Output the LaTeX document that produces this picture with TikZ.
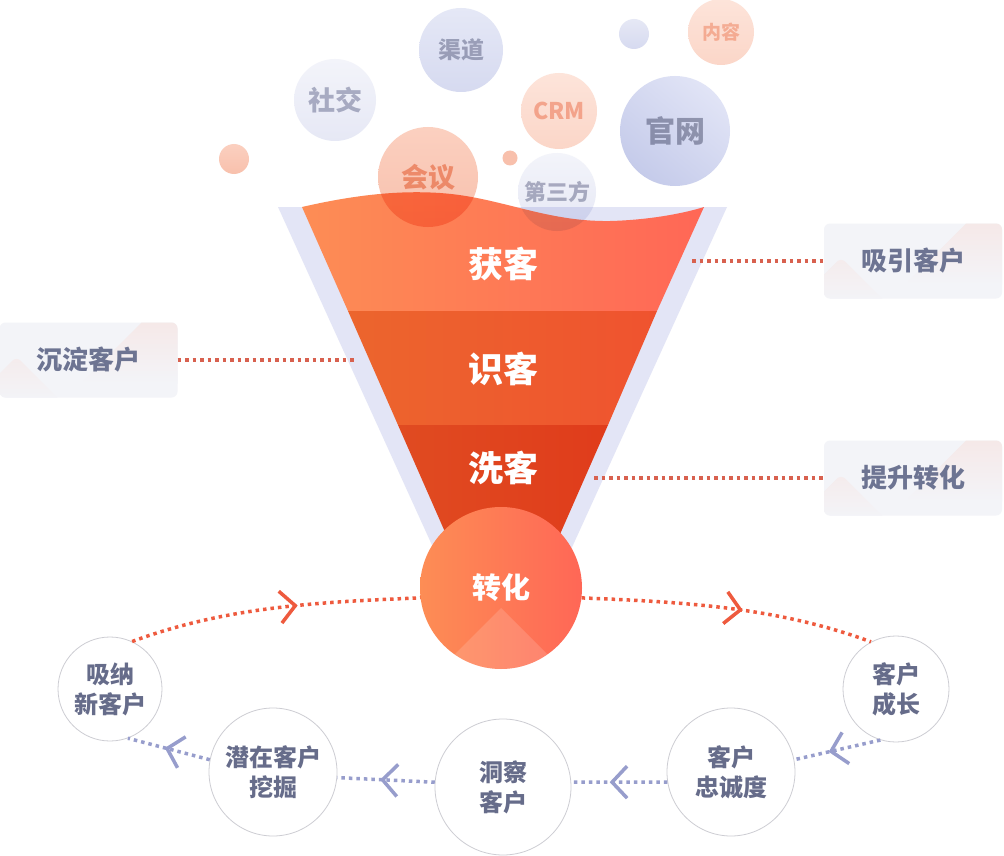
\documentclass[tikz,border=0pt]{standalone}
\usepackage{fontspec}
\setmainfont{Noto Sans CJK SC}
\usetikzlibrary{arrows.meta,decorations.markings}

\newcommand\fsz[1]{\fontsize{#1}{#1}\selectfont\bfseries}

\definecolor{wall}{HTML}{E3E5F6}
\definecolor{bandA1}{HTML}{FD8D55}
\definecolor{bandA2}{HTML}{FF6756}
\definecolor{bandB1}{HTML}{EC652D}
\definecolor{bandB2}{HTML}{EF532F}
\definecolor{bandC1}{HTML}{E04B21}
\definecolor{bandC2}{HTML}{E03C1B}
\definecolor{tagbg}{HTML}{F3F4F8}
\definecolor{tagpink}{HTML}{F6E5E3}
\definecolor{tagtxt}{HTML}{6D7492}
\definecolor{stagetxt}{HTML}{666C8A}
\definecolor{stageline}{HTML}{CDCDD3}
\definecolor{redline}{HTML}{EE5A3E}
\definecolor{tagdot}{HTML}{D8614F}
\definecolor{blueline}{HTML}{979DCC}
% bubble colours
\definecolor{grayA}{HTML}{F3F4FA}
\definecolor{grayB}{HTML}{E6E8F5}
\definecolor{blueA}{HTML}{E5E8F6}
\definecolor{blueB}{HTML}{D6DAF0}
\definecolor{siteA}{HTML}{E1E4F6}
\definecolor{siteB}{HTML}{C5CBEA}
\definecolor{peachA}{HTML}{FDE4DA}
\definecolor{peachB}{HTML}{FBD6C8}
\definecolor{meetA}{HTML}{FBD0C0}
\definecolor{meetB}{HTML}{F8C0AC}
\definecolor{txSocial}{HTML}{B5B7C8}
\definecolor{txChannel}{HTML}{B1B3C1}
\definecolor{txThird}{HTML}{B3B5C5}
\definecolor{txSite}{HTML}{A9ABB7}
\definecolor{txCrm}{HTML}{F6BDAA}
\definecolor{txContent}{HTML}{F7C6B3}
\definecolor{txMeet}{HTML}{F2B094}

\tikzset{
  bubble/.style={circle,inner sep=0pt,minimum size=#1},
  bandtxt/.style={text=white,font=\fsz{35}},
  tagbox/.style={rectangle,rounded corners=6pt,fill=tagbg,minimum width=178,minimum height=75,
    text=tagtxt,font=\fsz{26},
    path picture={
      \shade[top color=tagpink,bottom color=tagbg] ([xshift=17pt,yshift=-34pt]path picture bounding box.north west) -- ++(45,45) -- ++(-90,0) -- cycle;
      \shade[top color=tagpink,bottom color=tagbg] ([xshift=-17pt,yshift=19pt]path picture bounding box.north east) -- ++(80,80) -- ++(-160,0) -- cycle;
    }},
  tagline/.style={tagdot,line width=3.5pt,dash pattern=on 3.5pt off 4pt},
  stage/.style={circle,draw=stageline,line width=0.8pt,fill=white,inner sep=0pt,minimum size=#1,
    align=center,text=stagetxt,font=\fontsize{24}{30}\selectfont\bfseries},
  cyc/.style={line width=3.5pt,dash pattern=on 3.5pt off 4pt,postaction={decorate},
    decoration={markings,mark=at position #1 with {\arrow{Straight Barb[length=15pt,width=32pt,line width=3.5pt]}}}},
  redcyc/.style={cyc=#1,draw=redline},
  bluecyc/.style={cyc=#1,draw=blueline}
}

\begin{document}
\begin{tikzpicture}[x=1pt,y=-1pt]
\useasboundingbox (0,0) rectangle (1004,856);
\fill[white] (0,0) rectangle (1004,856);

% funnel
\fill[wall] (278,207) -- (727,207) -- (548,600) -- (457,600) -- cycle;
\shade[left color=bandA1,right color=bandA2] (302,207) .. controls (350,196) and (395,190) .. (440,193)
  .. controls (500,197) and (545,222) .. (610,221) .. controls (650,220) and (685,213) .. (704,207)
  -- (657,311) -- (348,311) -- cycle;
\shade[left color=bandB1,right color=bandB2] (348,311) -- (657,311) -- (608,425) -- (398,425) -- cycle;
\shade[left color=bandC1,right color=bandC2] (398,425) -- (608,425) -- (503,664) -- cycle;
\node[bandtxt] (win) at (503,264) {获客};
\node[bandtxt] (know) at (503,369) {识客};
\node[bandtxt] (wash) at (503,468) {洗客};

% bubbles
\begin{scope}[blend mode=multiply]
  \node[bubble=82,top color=grayA,bottom color=grayB,text=txSocial,font=\fsz{27}] (social) at (335,100) {社交};
  \node[bubble=84,top color=blueA,bottom color=blueB,text=txChannel,font=\fsz{23}] (channel) at (461,50) {渠道};
  \node[bubble=30,top color=grayB,bottom color=blueB] (dotA) at (634,34) {};
  \node[bubble=66,top color=peachA,bottom color=peachB,text=txContent,font=\fsz{19}] (content) at (721,32) {内容};
  \node[bubble=76,top color=peachA,bottom color=peachB,text=txCrm,font=\fsz{23}] (crm) at (559,111) {CRM};
  \node[bubble=110,top color=siteA,bottom color=siteB,shading angle=-40,text=txSite,font=\fsz{30}] (site) at (675,131) {官网};
  \node[bubble=30,top color=meetA,bottom color=meetB] (dotB) at (234,159) {};
  \node[bubble=100,top color=meetA,bottom color=meetB,text=txMeet,font=\fsz{27}] (meeting) at (428,177) {会议};
  \node[bubble=15,fill=meetB] (dotC) at (510,158) {};
  \node[bubble=78,top color=grayA,bottom color=grayB,text=txThird,font=\fsz{22}] (third) at (557,192) {第三方};
\end{scope}

% conversion
\node[circle,inner sep=0pt,minimum size=162,left color=bandA1,right color=bandA2,text=white,font=\fsz{29},
  path picture={\fill[white,opacity=.15] ([yshift=-20pt]path picture bounding box.center) -- ++(-160,160) -- ++(320,0) -- cycle;}]
  (conv) at (501,588) {转化};

% side tags
\node[tagbox] (attract) at (913,261) {吸引客户};
\node[tagbox] (retain) at (88.5,360) {沉淀客户};
\node[tagbox] (boost) at (913,478) {提升转化};
\coordinate (fa) at (692,261);
\coordinate (fb) at (357,360);
\coordinate (fc) at (594,478);
\draw[tagline] (fa) -- (attract);
\draw[tagline] (retain) -- (fb);
\draw[tagline] (fc) -- (boost);

% cycle
\node[stage=104] (absorb) at (110,689) {吸纳\\新客户};
\node[stage=128] (mine) at (273,772) {潜在客户\\挖掘};
\node[stage=136] (insight) at (503,787) {洞察\\客户};
\node[stage=128] (loyal) at (731,772) {客户\\忠诚度};
\node[stage=106] (grow) at (896,689) {客户\\成长};

\draw[redcyc=0.58] (absorb.65) .. controls +(94,-35) and +(-100,4) .. (conv.187);
\draw[redcyc=0.55] (conv.-7) .. controls +(100,4) and +(-94,-35) .. (grow.118);
\draw[bluecyc=0.6] (grow.253) -- (loyal.11);
\draw[bluecyc=0.6] (loyal.189) -- (insight.4);
\draw[bluecyc=0.56] (insight.176) -- (mine.355);
\draw[bluecyc=0.55] (mine.169) -- (absorb.290);
\end{tikzpicture}
\end{document}
